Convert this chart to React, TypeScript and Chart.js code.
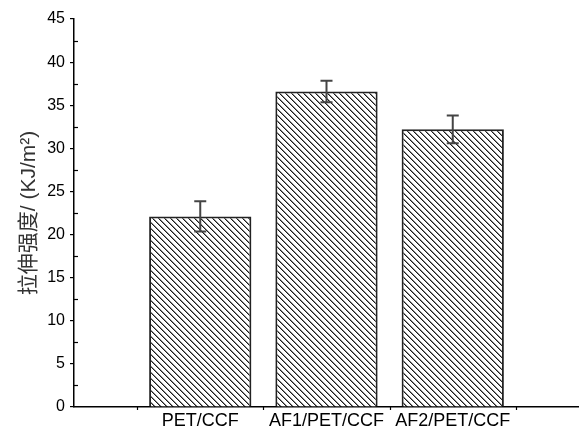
import React, { useEffect, useRef } from "react";
import { Chart, registerables } from "chart.js";

Chart.register(...registerables);

const categories = ["PET/CCF", "AF1/PET/CCF", "AF2/PET/CCF"];
const strengthValues = [22.1, 36.6, 32.2];
const strengthErrors = [1.75, 1.25, 1.6];
const yTicks = [0, 5, 10, 15, 20, 25, 30, 35, 40, 45];
const yTitle = "拉伸强度/ (KJ/m²)";

const FONT = "'Liberation Sans', Arial, 'Noto Sans CJK SC', sans-serif";

function makeHatch(): CanvasPattern | string {
  const c = document.createElement("canvas");
  const p = 6;
  c.width = p;
  c.height = p;
  const g = c.getContext("2d");
  if (!g) return "#fff";
  g.fillStyle = "#ffffff";
  g.fillRect(0, 0, p, p);
  for (let i = 0; i < p; i++) {
    g.fillStyle = "#1a1a1a";
    g.fillRect(i, i, 1, 1);
    g.fillStyle = "#8a8a8a";
    g.fillRect((i + 1) % p, i, 1, 1);
  }
  const pat = g.createPattern(c, "repeat");
  return pat || "#fff";
}

const decorPlugin = {
  id: "decor",
  afterDatasetsDraw(chart: any) {
    const ctx = chart.ctx;
    const x = chart.scales.x;
    const y = chart.scales.y;
    ctx.save();
    // error bars
    ctx.strokeStyle = "#444";
    ctx.lineWidth = 2;
    strengthValues.forEach((v, i) => {
      const px = x.getPixelForValue(i + 1);
      const top = y.getPixelForValue(v + strengthErrors[i]);
      const bot = y.getPixelForValue(v - strengthErrors[i]);
      ctx.beginPath();
      ctx.moveTo(px, top);
      ctx.lineTo(px, bot);
      ctx.moveTo(px - 6, top);
      ctx.lineTo(px + 6, top);
      ctx.moveTo(px - 6, bot);
      ctx.lineTo(px + 6, bot);
      ctx.stroke();
    });
    // minor y ticks (inward)
    ctx.strokeStyle = "#000";
    ctx.lineWidth = 1.2;
    const ax = chart.chartArea.left;
    for (let k = 0; k < yTicks.length - 1; k++) {
      const v = (yTicks[k] + yTicks[k + 1]) / 2;
      const py = Math.round(y.getPixelForValue(v)) + 0.5;
      ctx.beginPath();
      ctx.moveTo(ax, py);
      ctx.lineTo(ax + 4, py);
      ctx.stroke();
    }
    // x boundary ticks
    const by = chart.chartArea.bottom;
    for (let k = 0; k <= categories.length; k++) {
      const px = Math.round(x.getPixelForValue(k + 0.5)) + 0.5;
      ctx.beginPath();
      ctx.moveTo(px, by);
      ctx.lineTo(px, by + 3);
      ctx.stroke();
    }
    ctx.restore();
  },
};

export default function App() {
  const ref = useRef<HTMLCanvasElement | null>(null);
  useEffect(() => {
    if (!ref.current) return;
    const labels = ["", ...categories, ""];
    const data = [null, ...strengthValues, null];
    const chart = new Chart(ref.current, {
      type: "bar",
      data: {
        labels,
        datasets: [
          {
            data: data as any,
            backgroundColor: makeHatch() as any,
            borderColor: "#222",
            borderWidth: 2,
            barPercentage: 0.81,
            categoryPercentage: 1,
          },
        ],
      },
      options: {
        responsive: false,
        animation: false,
        devicePixelRatio: 1,
        layout: { autoPadding: false, padding: { top: 19, right: 0, left: 0, bottom: 0 } },
        plugins: { legend: { display: false }, tooltip: { enabled: false } },
        scales: {
          x: {
            offset: false,
            grid: { display: false, drawTicks: false },
            border: { display: true, color: "#000", width: 1.5 },
            ticks: {
              autoSkip: false,
              maxRotation: 0,
              padding: 3,
              color: "#000",
              font: { family: FONT, size: 18 },
            },
            afterFit: (s: any) => {
              s.height = 20;
              s.paddingLeft = 0;
              s.paddingRight = 0;
            },
          },
          y: {
            min: 0,
            max: 45,
            afterBuildTicks: (s: any) => {
              s.ticks = yTicks.map((v) => ({ value: v }));
            },
            grid: {
              display: true,
              drawOnChartArea: false,
              drawTicks: true,
              tickLength: 4,
              color: "#000",
              lineWidth: 1.2,
            },
            border: { display: true, color: "#000", width: 1.5 },
            ticks: {
              padding: 5,
              color: "#000",
              font: { family: FONT, size: 16 },
            },
            title: {
              display: true,
              text: yTitle,
              color: "#333",
              font: { family: FONT, size: 21 },
              padding: { top: 17, bottom: 0 },
            },
            afterFit: (s: any) => {
              s.width = 74;
            },
          },
        },
      },
      plugins: [decorPlugin],
    });
    return () => chart.destroy();
  }, []);
  return (
    <div style={{ position: "absolute", left: 0, top: 0, width: 579, height: 427, background: "#fff" }}>
      <canvas ref={ref} width={579} height={427} />
    </div>
  );
}
